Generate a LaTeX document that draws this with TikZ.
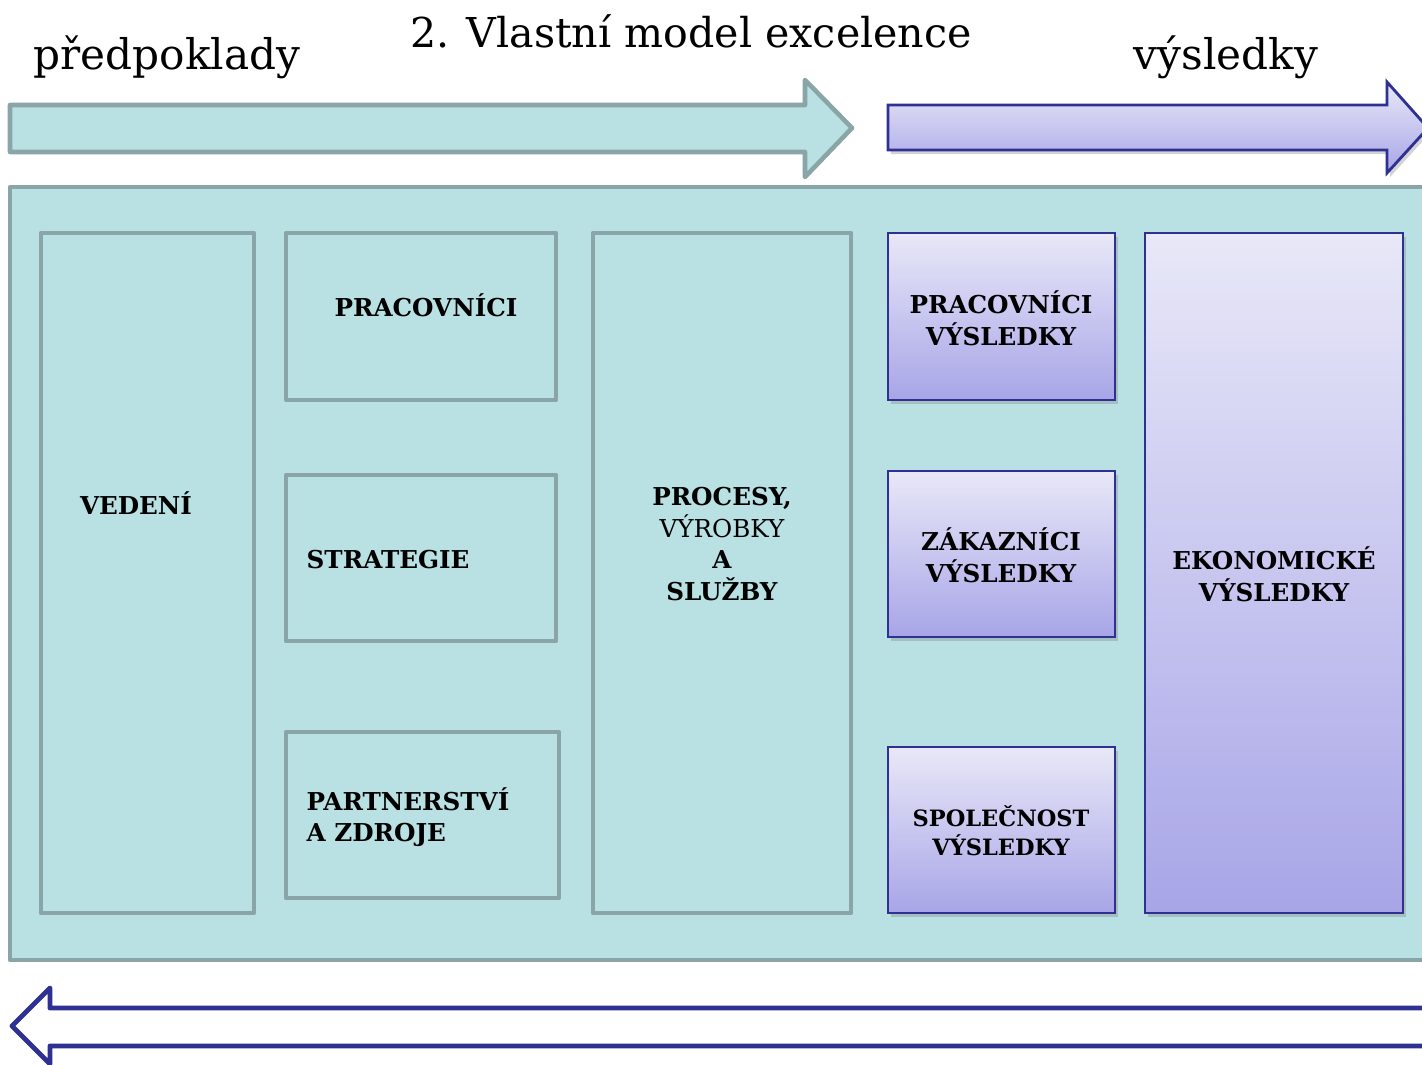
\documentclass[tikz,border=0pt]{standalone}
\usepackage{fontspec}
\setmainfont{DejaVu Serif}
\usetikzlibrary{shadows}
\definecolor{tealfill}{HTML}{B9E0E2}
\definecolor{tealline}{HTML}{8AA5A7}
\definecolor{resline}{HTML}{2E3192}
\definecolor{restop}{HTML}{E8E8F8}
\definecolor{resbot}{HTML}{A8A5E7}
\tikzset{
  pre/.style={draw=tealline, fill=tealfill, line width=1.3pt, line join=round},
  res/.style={draw=resline, line width=0.8pt, top color=restop, bottom color=resbot,
    drop shadow={opacity=0.35, shadow xshift=0.8pt, shadow yshift=-1.2pt}},
  back/.style={draw=resline, fill=white, line width=1.4pt, line join=round},
  lab/.style={font=\fontsize{7}{9}\selectfont\bfseries, align=center, inner sep=0pt},
  labl/.style={lab, align=left, anchor=west},
  head/.style={font=\fontsize{12}{15}\selectfont, inner sep=0pt, anchor=base},
}
\begin{document}
\begin{tikzpicture}[x=0.01cm, y=-0.01cm]
  \useasboundingbox (0,0) rectangle (1422,1064);
  % headings
  \node[head, anchor=base west] (pred) at (33,70) {předpoklady};
  \node[head, font=\fontsize{11.7}{15}\selectfont] (title) at (691,48) {2. Vlastní model excelence};
  \node[head] (vysl) at (1226,70) {výsledky};
  % arrows on top and below
  \draw[pre] (10,105) -- (805,105) -- (805,80) -- (852,128) -- (805,177)
    -- (805,152) -- (10,152) -- cycle;
  \draw[res] (888,105) -- (1387,105) -- (1387,82) -- (1428,128) -- (1387,173)
    -- (1387,150) -- (888,150) -- cycle;
  \draw[back] (1440,1008) -- (50,1008) -- (50,988) -- (12,1026) -- (50,1064)
    -- (50,1046) -- (1440,1046);
  % frame
  \draw[pre] (10,187) rectangle (1440,960);
  % premises
  \draw[pre] (41,233) rectangle (254,913);
  \draw[pre] (286,233) rectangle (556,400);
  \draw[pre] (286,475) rectangle (556,641);
  \draw[pre] (286,732) rectangle (559,898);
  \draw[pre] (593,233) rectangle (851,913);
  \node[lab] (vedeni) at (136,503) {VEDENÍ};
  \node[lab] (prac) at (426,305) {PRACOVNÍCI};
  \node[labl] (strat) at (306,560) {STRATEGIE};
  \node[labl] (partn) at (306,817) {PARTNERSTVÍ\\A ZDROJE};
  \node[lab] (proc) at (722,544) {PROCESY,\\\mdseries VÝROBKY\\A\\SLUŽBY};
  % results
  \draw[res] (888,233) rectangle (1115,400);
  \draw[res] (888,471) rectangle (1115,637);
  \draw[res] (888,747) rectangle (1115,913);
  \draw[res] (1145,233) rectangle (1403,913);
  \node[lab] (pracv) at (1001,318) {PRACOVNÍCI\\VÝSLEDKY};
  \node[lab] (zakv) at (1001,555) {ZÁKAZNÍCI\\VÝSLEDKY};
  \node[lab, font=\fontsize{6.4}{8.2}\selectfont\bfseries] (spolv) at (1001,831) {SPOLEČNOST\\VÝSLEDKY};
  \node[lab] (ekov) at (1274,574) {EKONOMICKÉ\\VÝSLEDKY};
\end{tikzpicture}
\end{document}
